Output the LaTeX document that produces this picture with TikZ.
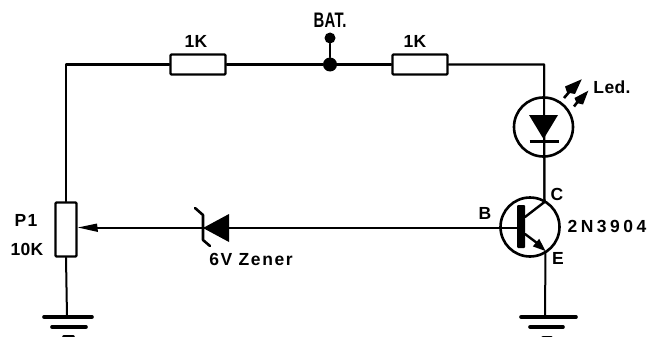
\documentclass[tikz,border=0pt]{standalone}
\usepackage{fontspec}
\setmainfont{Liberation Sans}
\newfontfamily\labA[LetterSpace=2]{Liberation Sans Bold}
\newfontfamily\labB[LetterSpace=9]{Liberation Sans Bold}
\newfontfamily\labC[LetterSpace=20]{Liberation Sans Bold}
\tikzset{
  x=1pt,y=-1pt,
  wire/.style={line width=2pt,line cap=round,line join=round},
  part/.style={draw,line width=2.4pt,fill=white,rounded corners=1pt,inner sep=0pt,minimum width=#1},
  txt/.style={inner sep=0pt,text=black,font=\fontsize{17.5}{19}\selectfont},
  disc/.style={circle,fill=black,inner sep=0pt,minimum size=#1},
  ring/.style={circle,draw,line width=2.6pt,fill=white,inner sep=0pt,minimum size=#1},
  gbar/.style={line width=3.6pt,line cap=round}
}
\begin{document}
\begin{tikzpicture}
\useasboundingbox (0,0) rectangle (650,337);
\fill[white] (0,0) rectangle (650,337);
\coordinate (cornerL) at (66,64.5);
\coordinate (cornerR) at (544,64.5);
\coordinate (gndL) at (67,317);
\coordinate (gndR) at (545,317);
\coordinate (cJoin) at (544.5,202);
\coordinate (eJoin) at (545.5,251);
\coordinate (wipe) at (78,227.5);
\node[disc=14pt] (jn) at (330,64.5) {};
\node[disc=11pt] (bat) at (330,38) {};
\node[part=55pt,minimum height=20pt] (r1) at (198,64.5) {};
\node[part=55pt,minimum height=20pt] (r2) at (420,64.5) {};
\node[part=21pt,minimum height=54pt] (pot) at (66,229.5) {};
\draw[wire] (pot.north) -- (cornerL) -- (r1.west);
\draw[wire] (r1.east) -- (jn) -- (r2.west);
\draw[wire] (r2.east) -- (cornerR) -- (cJoin);
\draw[wire,line width=2.6pt] (jn) -- (bat);
\draw[wire] (eJoin) -- (gndR);
\draw[wire] (pot.south) -- (gndL);
% LED
\node[ring=59pt] (led) at (543.5,127) {};
\draw[wire] (led.north) -- (led.south);
\coordinate (ledTip) at (543.5,139);
\fill[black] (529,115) -- (558,115) -- (ledTip) -- cycle;
\draw[line width=3pt] (529.5,141) -- (558.5,141);
\coordinate (a1s) at (564,98);
\coordinate (a1e) at (581.7,79.3);
\coordinate (a2s) at (574,106.5);
\coordinate (a2e) at (588.3,90.7);
\draw[line width=2.6pt] (a1s) -- (570,91);
\fill[black] (a1e) -- (565,86.5) -- (567,92.5) -- (575,94) -- cycle;
\draw[line width=2.6pt] (a2s) -- (579,100);
\fill[black] (a2e) -- (574.5,98) -- (576.5,103) -- (583,104.5) -- cycle;
% transistor
\node[ring=59pt] (q) at (530,227) {};
\node[fill=black,rounded corners=1pt,minimum width=8pt,minimum height=43pt,inner sep=0pt] (qb) at (521,226.5) {};
\draw[wire,line width=2.4pt] (525,217) -- (cJoin);
\draw[wire,line width=2.4pt] (525,234) -- (537,243);
\fill[black] (eJoin) -- (539.2,238.8) -- (532.8,246.4) -- cycle;
\draw[wire] (cornerR) -- (cJoin);
% zener and base line
\coordinate (zTip) at (203,228);
\draw[wire] (qb.west |- zTip) -- (zTip);
\draw[wire] (zTip) -- (95,228);
\fill[black] (229,214) -- (229,242) -- (zTip) -- cycle;
\draw[wire,line width=2.6pt] (195,208) -- (203,215) -- (203,240) -- (210,246);
% wiper
\fill[black] (wipe) -- (97,223.5) -- (98,232) -- cycle;
% grounds
\draw[gbar] (44,317) -- (92,317);
\draw[gbar] (52,327) -- (86,327);
\draw[gbar] (64,337) -- (73,337);
\draw[gbar] (521,317) -- (576,317);
\draw[gbar] (530,327) -- (563,327);
\draw[gbar] (543,338) -- (551,338);
% labels
\node[txt] (tBat) at (330,20) {\scalebox{0.85}[1.2]{\labA BAT.}};
\node[txt] (t1k1) at (196,41) {\labA 1K};
\node[txt] (t1k2) at (415,41) {\labA 1K};
\node[txt] (tLed) at (612,87) {\labA Led.};
\node[txt] (tC) at (557,194) {\labA C};
\node[txt] (tB) at (485,213) {\labA B};
\node[txt] (tQ) at (607,226) {\labC 2N3904};
\node[txt] (tE) at (558,258) {\labA E};
\node[txt] (tP) at (26,220) {\labB P1};
\node[txt] (tV) at (27,249) {\labA 10K};
\node[txt] (tZ) at (251,259) {\labB 6V Zener};
\end{tikzpicture}
\end{document}
